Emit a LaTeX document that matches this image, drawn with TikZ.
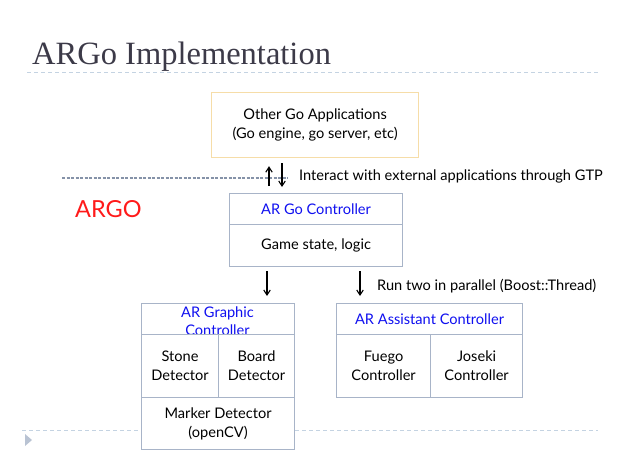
\documentclass[tikz,border=0pt]{standalone}
\usepackage{fontspec}
\setmainfont{Lato}
\newfontfamily\titlefont{Liberation Serif}
\usetikzlibrary{arrows.meta,calc}
\definecolor{titlegray}{HTML}{3C3A48}
\definecolor{lightdash}{HTML}{C4D3E2}
\definecolor{darkdash}{HTML}{8592A8}
\definecolor{boxline}{HTML}{A8B4C8}
\definecolor{orangeline}{HTML}{F6DDA8}
\definecolor{argored}{HTML}{FF1A1A}
\definecolor{ctrlblue}{HTML}{1010F0}
\tikzset{
  cell/.style={draw=boxline, line width=1.2pt, fill=white, rectangle, anchor=north west, inner sep=0pt, align=center, font=\fontsize{14.6}{19}\selectfont},
  headtext/.style={text=ctrlblue},
  txt/.style={inner sep=0pt, align=center, font=\fontsize{14.6}{19}\selectfont},
  arr/.style={line width=1.1pt, -{Straight Barb[length=5pt,width=6.5pt]}},
}
\begin{document}
\begin{tikzpicture}[x=1pt,y=-1pt]
\useasboundingbox (0,0) rectangle (619,460);
% title
\node[anchor=base west, inner sep=0pt, text=titlegray, font=\titlefont\fontsize{32.5}{36}\selectfont] (title) at (32,65) {ARGo Implementation};
\draw[lightdash, line width=1pt, dash pattern=on 4pt off 3pt] (27,73) -- (598,73);
% bottom dashed line and triangle
\draw[lightdash, line width=1pt, dash pattern=on 4pt off 3pt] (22,430) -- (598,430);
\fill[boxline!80] (25,434) -- (32,440) -- (25,446) -- cycle;
% upper boundary dashed line
\draw[darkdash, line width=1.2pt, dash pattern=on 3pt off 1.5pt] (62,178) -- (288,178);
% other apps
\node[cell, draw=orangeline, minimum width=207, minimum height=65] (other) at (211,92) {Other Go Applications\\(Go engine, go server, etc)};
% ARGO label
\node[anchor=west, inner sep=0pt, text=argored, font=\fontsize{23.5}{26}\selectfont] (argo) at (75,209) {ARGO};
% AR Go controller
\node[cell, minimum width=173, minimum height=31, headtext] (ctrlH) at (229,193) {AR Go Controller};
\node[cell, minimum width=173, minimum height=42] (ctrlB) at (229,224) {Game state, logic};
% arrows between other and controller
\coordinate (xa) at (269,0);
\coordinate (xb) at (282,0);
\draw[arr, shorten <=7pt, shorten >=8pt] (ctrlH.north -| xa) -- (other.south -| xa);
\draw[arr, shorten <=5pt, shorten >=6pt] (other.south -| xb) -- (ctrlH.north -| xb);
\node[txt, anchor=west] (gtp) at (299,176) {Interact with external applications through GTP};
% graphic controller
\node[cell, minimum width=153, minimum height=31] (gH) at (141,303) {};
\node[txt, text=ctrlblue, font=\fontsize{14.6}{18}\selectfont] (gHt) at (217.5,321) {AR Graphic\\Controller};
\node[cell, minimum width=77, minimum height=63] (stone) at (141,334) {Stone\\Detector};
\node[cell, minimum width=76, minimum height=63] (board) at (218,334) {Board\\Detector};
\node[cell, minimum width=153, minimum height=52] (marker) at (141,397) {Marker Detector\\(openCV)};
% assistant controller
\node[cell, minimum width=186, minimum height=31, headtext] (aH) at (336,303) {AR Assistant Controller};
\node[cell, minimum width=94, minimum height=63] (fuego) at (336,334) {Fuego\\Controller};
\node[cell, minimum width=92, minimum height=63] (joseki) at (430,334) {Joseki\\Controller};
% arrows down
\coordinate (xc) at (267,0);
\coordinate (xd) at (360,0);
\draw[arr, shorten <=4pt, shorten >=7pt] (ctrlB.south -| xc) -- (gH.north -| xc);
\draw[arr, shorten <=4pt, shorten >=7pt] (ctrlB.south -| xd) -- (aH.north -| xd);
\node[txt, anchor=west] (par) at (377,286) {Run two in parallel (Boost::Thread)};
\end{tikzpicture}
\end{document}
